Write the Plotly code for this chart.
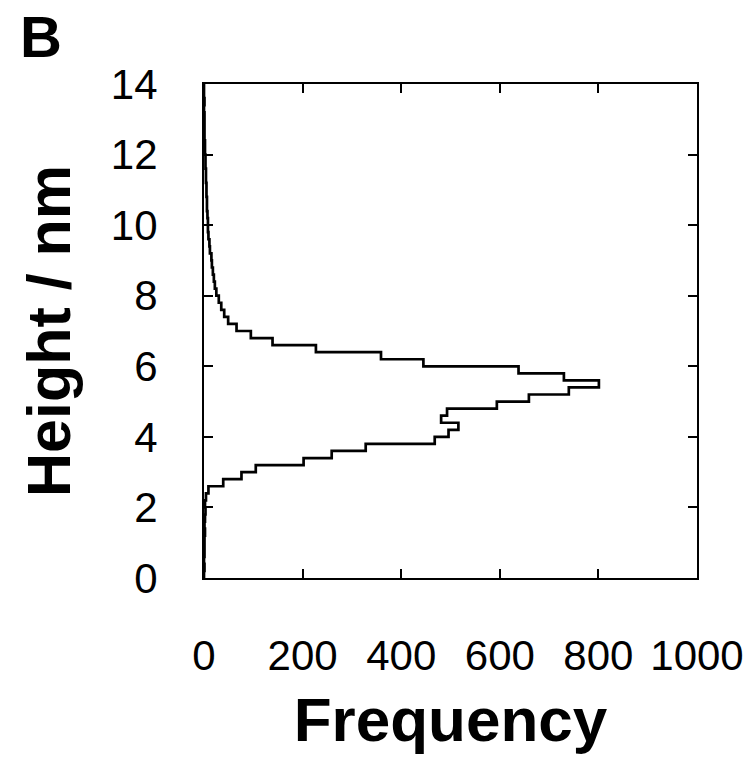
import numpy as np
import plotly.graph_objects as go

# Histogram of heights: bin lower edges (nm), bin width 0.2 nm
bin_width = 0.2
bin_starts = [round(i * 0.2, 1) for i in range(70)]
counts = [
    0, 1, 0, 1, 1, 1, 2, 1, 2, 3,        # 0.0 - 1.8
    2, 4, 9, 39, 76, 105, 202, 259, 328, 468,   # 2.0 - 3.8
    496, 516, 481, 493, 594, 659, 740, 801, 730, 638,  # 4.0 - 5.8
    445, 359, 227, 139, 95, 66, 49, 41, 35, 30,  # 6.0 - 7.8
    25, 22, 20, 18, 16, 15, 12, 11, 9, 8,  # 8.0 - 9.8
    8, 7, 6, 6, 5, 5, 4, 4, 3, 3,  # 10.0 - 11.8
    2, 2, 1, 1, 1, 1, 0, 1, 0, 0,  # 12.0 - 13.8
]
x_ticks = [0, 200, 400, 600, 800, 1000]
y_ticks = [0, 2, 4, 6, 8, 10, 12, 14]

# step outline: vertical segment for each bin, horizontal between bins
ys = list(bin_starts) + [bin_starts[-1] + bin_width]
xs = list(counts) + [counts[-1]]

FONT = "Liberation Sans, Arial, Helvetica, sans-serif"

fig = go.Figure()
fig.add_trace(go.Scatter(
    x=xs, y=ys, mode="lines",
    line=dict(color="black", width=2.7, shape="vh"),
    showlegend=False, hoverinfo="skip",
))

axis_common = dict(
    showline=True, linecolor="black", linewidth=2.2,
    mirror="ticks", ticks="inside", ticklen=9, tickwidth=2.2, tickcolor="black",
    showgrid=False, zeroline=False,
    tickfont=dict(family=FONT, size=42, color="black"),
)

fig.update_xaxes(
    range=[0, 1000], tickvals=x_ticks, ticktext=[str(v) for v in x_ticks],
    ticklabelstandoff=39,
    title=dict(text="<b>Frequency</b>", font=dict(family=FONT, size=62, color="black"), standoff=20),
    **axis_common,
)
fig.update_yaxes(
    range=[0, 14], tickvals=y_ticks, ticktext=[str(v) for v in y_ticks],
    ticklabelstandoff=36,
    title=dict(text="<b>Height / nm</b>", font=dict(family=FONT, size=61, color="black"), standoff=20),
    **axis_common,
)

fig.add_annotation(
    text="<b>B</b>", xref="paper", yref="paper",
    x=(18 - 204) / 494, y=(578 - 2) / 494, xanchor="left", yanchor="top",
    showarrow=False, font=dict(family=FONT, size=58, color="black"),
)

fig.update_layout(
    width=756, height=764,
    margin=dict(l=204, r=59, t=84, b=186, autoexpand=False),
    paper_bgcolor="white", plot_bgcolor="white",
)

fig.write_html("out.html")
